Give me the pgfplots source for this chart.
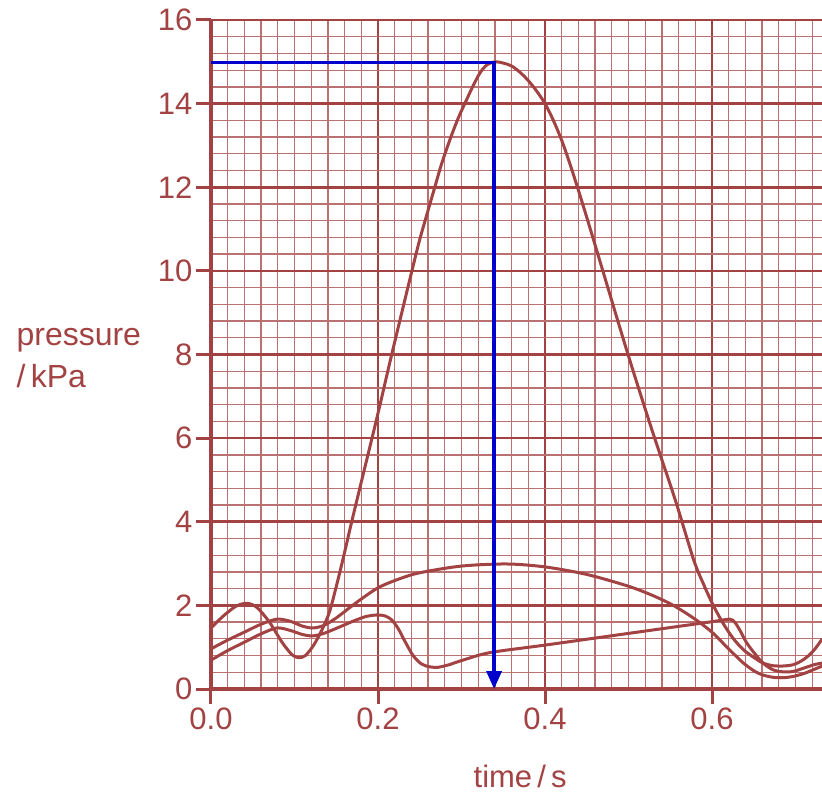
\documentclass[border=0pt]{standalone}
\usepackage{fontspec}
\setmainfont{Liberation Sans}
\usepackage{pgfplots}
\pgfplotsset{compat=1.18}
\usetikzlibrary{arrows.meta}
\definecolor{mc}{RGB}{162,66,66}
\definecolor{ablue}{RGB}{0,0,205}
\begin{document}
\begin{tikzpicture}
\begin{axis}[
  at={(0,0)}, anchor=south west,
  scale only axis, width=611pt, height=669pt,
  xmin=0, xmax=0.7317, ymin=0, ymax=16,
  xtick={0,0.2,0.4,0.6}, ytick={0,2,...,16},
  minor xtick={0.02,0.04,...,0.73},
  minor ytick={0.4,0.8,...,15.9},
  grid=both,
  major grid style={color=mc, line width=2.6pt},
  minor grid style={color=mc!75, line width=1.3pt},
  axis x line=bottom, axis y line=left,
  axis line style={-, line width=3.2pt, color=mc},
  tick align=outside, major tick length=15pt, minor tick length=0pt,
  tick style={line width=3pt, color=mc},
  /pgf/number format/assume math mode=true,
  tick label style={font=\fontsize{31}{36}\selectfont, text=mc},
  xticklabel style={/pgf/number format/.cd, fixed, fixed zerofill, precision=1},
  yticklabel style={/pgf/number format/.cd, fixed, precision=0},
  ylabel={pressure\\/\,kPa},
  ylabel style={rotate=-90, align=left, anchor=west, at={(axis description cs:-0.3240,0.494)}, font=\fontsize{32}{42}\selectfont, text=mc},
  xlabel={time\,/\,s},
  xlabel style={anchor=center, at={(axis description cs:0.506,-0.13)}, font=\fontsize{31}{36}\selectfont, text=mc},
]
% ventricular pressure
\addplot[mc, line width=3pt, smooth] coordinates {
(0,1.46) (0.015,1.75) (0.03,1.98) (0.043,2.05) (0.055,1.95) (0.07,1.6) (0.085,1.12) (0.097,0.82) (0.105,0.75) (0.113,0.8) (0.123,1.05) (0.133,1.42) (0.142,1.85) (0.15,2.45) (0.158,3.1) (0.1685,4.0) (0.18,4.95) (0.199,6.51) (0.2164,8.0) (0.24,9.95) (0.25,10.75) (0.26,11.45) (0.268,12.0) (0.276,12.55) (0.286,13.13) (0.296,13.65) (0.306,14.09) (0.314,14.43) (0.322,14.73) (0.33,14.92) (0.34,15.0) (0.35,14.97) (0.36,14.9) (0.37,14.75) (0.38,14.55) (0.39,14.3) (0.4,14.0) (0.41,13.6) (0.42,13.12) (0.43,12.55) (0.442,11.8) (0.455,10.95) (0.47,9.95) (0.4994,8.0) (0.528,6.2) (0.556,4.52) (0.578,3.09) (0.59,2.5) (0.601,2.02) (0.613,1.58) (0.625,1.22) (0.637,0.95) (0.649,0.77) (0.66,0.63) (0.672,0.56) (0.685,0.55) (0.697,0.58) (0.706,0.66) (0.714,0.77) (0.723,0.95) (0.732,1.2)
};
% arterial pressure
\addplot[mc, line width=3pt, smooth] coordinates {
(0,0.96) (0.02,1.17) (0.04,1.36) (0.06,1.55) (0.079,1.67) (0.095,1.62) (0.11,1.5) (0.122,1.46) (0.135,1.52) (0.15,1.7) (0.175,2.08) (0.2,2.42) (0.225,2.63) (0.25,2.78) (0.3,2.94) (0.354,2.99) (0.4,2.92) (0.45,2.74) (0.498,2.47) (0.525,2.27) (0.55,2.04) (0.57,1.8) (0.586,1.58) (0.601,1.34) (0.613,1.1) (0.625,0.86) (0.637,0.63) (0.649,0.45) (0.66,0.34) (0.673,0.28) (0.685,0.27) (0.697,0.3) (0.71,0.37) (0.72,0.45) (0.732,0.55)
};
% atrial pressure
\addplot[mc, line width=3pt, smooth] coordinates {
(0,0.69) (0.02,0.92) (0.04,1.12) (0.06,1.32) (0.079,1.46) (0.095,1.40) (0.11,1.30) (0.122,1.27) (0.135,1.33) (0.15,1.45) (0.17,1.62) (0.185,1.73) (0.198,1.77) (0.208,1.75) (0.216,1.66) (0.224,1.45) (0.232,1.15) (0.242,0.8) (0.252,0.6) (0.262,0.53) (0.272,0.52) (0.285,0.58) (0.3,0.68) (0.334,0.87) (0.4,1.05) (0.5,1.33) (0.6,1.61) (0.621,1.67) (0.627,1.6) (0.633,1.42) (0.641,1.12) (0.651,0.85) (0.661,0.62) (0.673,0.46) (0.685,0.41) (0.697,0.42) (0.71,0.5) (0.722,0.58) (0.732,0.62)
};
% blue arrow
\addplot[ablue, line width=3.5pt, line join=miter, -{Triangle[width=15pt,length=18pt]}] coordinates {(0,14.98) (0.339,14.98) (0.339,0)};
\end{axis}
\pgfresetboundingbox
\path (-211pt,-104pt) rectangle (611pt,689pt);
\end{tikzpicture}
\end{document}
